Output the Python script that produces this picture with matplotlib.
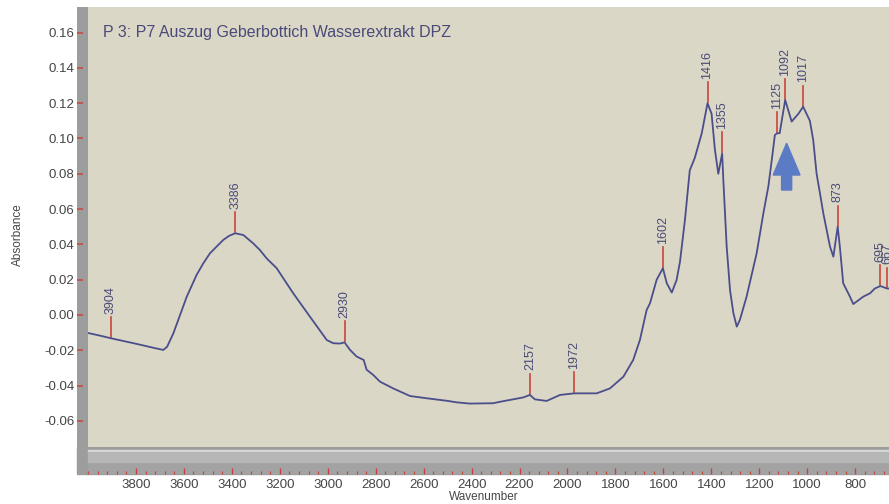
import numpy as np
import matplotlib
matplotlib.use('Agg')
import matplotlib.pyplot as plt
from matplotlib.patches import Rectangle, Polygon
from matplotlib.ticker import FixedLocator, MultipleLocator, FormatStrFormatter

plt.rcParams['font.family'] = ['Liberation Sans', 'DejaVu Sans']

# spectrum (wavenumber in cm-1, absorbance)
wavenumber = np.array([
    4000, 3950, 3904, 3800, 3720, 3686, 3670, 3644, 3588, 3547, 3519, 3491,
    3436, 3412, 3386, 3352, 3311, 3283, 3255, 3213, 3144, 3074, 3004, 2977,
    2949, 2930, 2907, 2880, 2865, 2850, 2838, 2810, 2782, 2727, 2657, 2587,
    2504, 2462, 2407, 2310, 2282, 2184, 2157, 2136, 2087, 2031, 1972, 1878,
    1823, 1767, 1726, 1698, 1670, 1656, 1628, 1602, 1586, 1565, 1545, 1531,
    1510, 1490, 1469, 1440, 1416, 1399, 1385, 1371, 1355, 1350, 1336,
    1322, 1308, 1294, 1281, 1253, 1211, 1183, 1162, 1148, 1135, 1125, 1115,
    1092, 1065, 1037, 1017, 989, 975, 961, 947, 933, 905, 891, 873,
    864, 850, 822, 808, 766, 738, 718, 695, 667, 655])
absorbance = np.array([
    -0.0102, -0.0117, -0.0132, -0.0163, -0.0188, -0.0198, -0.0180, -0.0104,
    0.0104, 0.0227, 0.0293, 0.0350, 0.0425, 0.0448, 0.0463, 0.0453,
    0.0406, 0.0368, 0.0321, 0.0265, 0.0123, -0.0010, -0.0142, -0.0160,
    -0.0162, -0.0155, -0.0198, -0.0235, -0.0245, -0.0255, -0.0310, -0.0340,
    -0.0378, -0.0416, -0.0459, -0.0472, -0.0486, -0.0495, -0.0502, -0.0500,
    -0.0492, -0.0467, -0.0453, -0.0478, -0.0487, -0.0453, -0.0444, -0.0444,
    -0.0416, -0.0350, -0.0255, -0.0142, 0.0028, 0.0066, 0.0200, 0.0265,
    0.0180, 0.0127, 0.0198, 0.0300, 0.0540, 0.0820, 0.0890,
    0.1030, 0.1200, 0.1140, 0.0935, 0.0800, 0.0915, 0.0765, 0.0387,
    0.0140, 0.0010, -0.0066, -0.0028, 0.0104, 0.0350, 0.0576, 0.0730,
    0.0878, 0.1020, 0.1030, 0.1030, 0.1218, 0.1096, 0.1140, 0.1180,
    0.1100, 0.0990, 0.0800, 0.0690, 0.0576, 0.0387, 0.0330, 0.0500,
    0.0387, 0.0180, 0.0104, 0.0062, 0.0104, 0.0123, 0.0150, 0.0164,
    0.0150, 0.0150])

peak_positions = [3904, 3386, 2930, 2157, 1972, 1602, 1416, 1355, 1125, 1092, 1017, 873, 695, 667]
peak_labels = [str(p) for p in peak_positions]

y_ticks = [-0.06, -0.04, -0.02, 0.00, 0.02, 0.04, 0.06, 0.08, 0.10, 0.12, 0.14, 0.16]
x_ticks = list(range(800, 3801, 200))

title = 'P 3: P7 Auszug Geberbottich Wasserextrakt DPZ'

# colours
bg = '#dbd7c7'
frame_grey = '#9d9d9d'
curve_col = '#4a4e8a'
red = '#c8453c'
txt_blue = '#4a4a78'
grey_txt = '#454545'

W, H = 889, 504


def fr(x0, y0, x1, y1):
    # pixel box -> figure fraction [left, bottom, width, height]
    return [x0 / W, 1 - y1 / H, (x1 - x0) / W, (y1 - y0) / H]


fig = plt.figure(figsize=(W / 100, H / 100), dpi=100)

xlim = (4000, 659)
ylim = (-0.0748, 0.1745)

# bottom grey band + scrollbar
fig.add_artist(Rectangle((77 / W, 1 - 474 / H), (W - 77) / W, 27 / H,
                         transform=fig.transFigure, color=frame_grey, zorder=0))
fig.add_artist(Rectangle((88 / W, 1 - 452 / H), (W - 88) / W, 2 / H,
                         transform=fig.transFigure, color='#dadada', zorder=1))
fig.add_artist(Rectangle((88 / W, 1 - 462 / H), (W - 88) / W, 10 / H,
                         transform=fig.transFigure, color='#b6b6b6', zorder=1))

# main plot area
ax = fig.add_axes(fr(88, 7, 889, 447))
ax.set_facecolor(bg)
ax.set_xlim(*xlim)
ax.set_ylim(*ylim)
for s in ax.spines.values():
    s.set_visible(False)
ax.set_xticks([])
ax.set_yticks([])

ax.plot(wavenumber, absorbance, color=curve_col, lw=1.3, zorder=3,
        solid_joinstyle='round')

# peak markers
order = np.argsort(wavenumber)
for pos, lab in zip(peak_positions, peak_labels):
    y0 = np.interp(pos, wavenumber[order], absorbance[order])
    ax.plot([pos, pos], [y0 + 0.0006, y0 + 0.0119], color=red, lw=1.2, zorder=2)
    ax.annotate(lab, xy=(pos, y0 + 0.0119), xytext=(0, 2.5), textcoords='offset points',
                rotation=90, ha='center', va='bottom', fontsize=9, color=txt_blue)

# blue arrow
ax_c, tip, head_base, tail = 1086, 0.0973, 0.0793, 0.0708
hw, sw = 56, 21
arrow = Polygon([(ax_c, tip), (ax_c + hw, head_base), (ax_c + sw, head_base),
                 (ax_c + sw, tail), (ax_c - sw, tail), (ax_c - sw, head_base),
                 (ax_c - hw, head_base)], closed=True, color='#5b7cc4', zorder=4)
ax.add_patch(arrow)

ax.text((103 - 88) / 801, 1 - 25 / 440, title, transform=ax.transAxes,
        fontsize=11.5, color=txt_blue, va='center', ha='left')

# left grey bar with y ticks
axl = fig.add_axes(fr(77, 7, 88, 447))
axl.set_facecolor(frame_grey)
axl.set_ylim(*ylim)
for s in axl.spines.values():
    s.set_visible(False)
axl.set_xticks([])
axl.yaxis.set_major_locator(FixedLocator(y_ticks))
axl.yaxis.set_major_formatter(FormatStrFormatter('%.2f'))
axl.tick_params(axis='y', direction='in', length=4.5, width=1.1, color=red,
                labelcolor=grey_txt, labelsize=9.5, pad=2)

# bottom tick strip
axb = fig.add_axes(fr(88, 463, 889, 474))
axb.set_facecolor('#a3a3a3')
axb.set_xlim(*xlim)
axb.set_yticks([])
for s in axb.spines.values():
    s.set_visible(False)
axb.xaxis.set_major_locator(FixedLocator(x_ticks))
axb.xaxis.set_minor_locator(MultipleLocator(40))
axb.xaxis.set_major_formatter(FormatStrFormatter('%d'))
axb.tick_params(axis='x', which='major', direction='in', length=4.5, width=1.0,
                color=red, labelcolor=grey_txt, labelsize=9.5, pad=3.5)
axb.tick_params(axis='x', which='minor', direction='in', length=2.2, width=0.9, color=red)

fig.text(484 / W, 1 - 497 / H, 'Wavenumber', ha='center', va='center',
         fontsize=8.5, color=grey_txt)
fig.text(18 / W, 1 - 235 / H, 'Absorbance', ha='center', va='center',
         rotation=90, fontsize=8.5, color=grey_txt)

fig.savefig('out.png', dpi=100, facecolor='white')
